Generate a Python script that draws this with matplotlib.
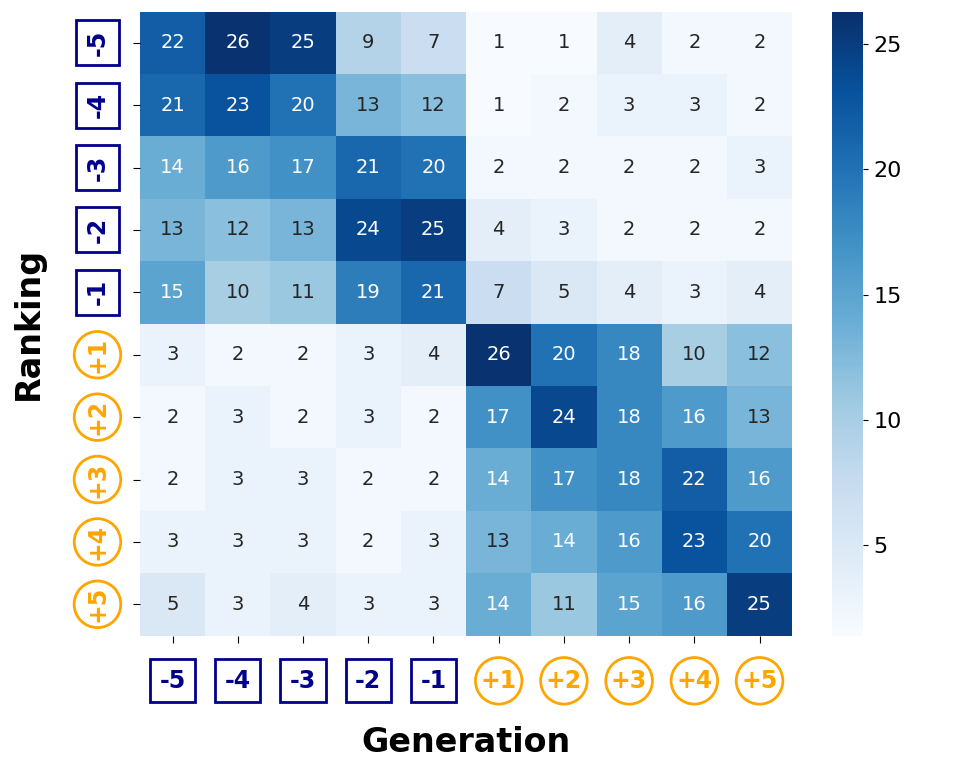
import matplotlib
matplotlib.use("Agg")
import matplotlib.pyplot as plt
import seaborn as sns
import numpy as np

gen_labels = ["-5", "-4", "-3", "-2", "-1", "+1", "+2", "+3", "+4", "+5"]
rank_labels = ["-5", "-4", "-3", "-2", "-1", "+1", "+2", "+3", "+4", "+5"]

row_m5 = [22, 26, 25, 9, 7, 1, 1, 4, 2, 2]
row_m4 = [21, 23, 20, 13, 12, 1, 2, 3, 3, 2]
row_m3 = [14, 16, 17, 21, 20, 2, 2, 2, 2, 3]
row_m2 = [13, 12, 13, 24, 25, 4, 3, 2, 2, 2]
row_m1 = [15, 10, 11, 19, 21, 7, 5, 4, 3, 4]
row_p1 = [3, 2, 2, 3, 4, 26, 20, 18, 10, 12]
row_p2 = [2, 3, 2, 3, 2, 17, 24, 18, 16, 13]
row_p3 = [2, 3, 3, 2, 2, 14, 17, 18, 22, 16]
row_p4 = [3, 3, 3, 2, 3, 13, 14, 16, 23, 20]
row_p5 = [5, 3, 4, 3, 3, 14, 11, 15, 16, 25]

data = np.array([row_m5, row_m4, row_m3, row_m2, row_m1,
                 row_p1, row_p2, row_p3, row_p4, row_p5])

fig = plt.figure(figsize=(9.69, 7.75), dpi=100)
ax = fig.add_axes([0.1445, 0.18, 0.673, 0.805])
cax = fig.add_axes([0.859, 0.18, 0.032, 0.805])

sns.heatmap(data, ax=ax, cbar_ax=cax, cmap="Blues", vmin=1.4, vmax=26.3,
            annot=True, fmt="d", annot_kws={"fontsize": 14},
            xticklabels=gen_labels, yticklabels=rank_labels)

cax.tick_params(labelsize=16)
cax.set_yticks([5, 10, 15, 20, 25])

navy = "#00008B"
orange = "#FFA500"

ax.tick_params(axis="x", pad=19, length=5)
ax.tick_params(axis="y", pad=17, length=5)

def style(lbl, rot):
    t = lbl.get_text()
    neg = t.startswith("-")
    lbl.set_rotation(rot)
    lbl.set_fontsize(17)
    lbl.set_fontweight("bold")
    lbl.set_color(navy if neg else orange)
    lbl.set_bbox(dict(boxstyle="square,pad=0.4" if neg else "circle,pad=0.22",
                      fc="white", ec=navy if neg else orange, lw=2))

for lbl in ax.get_xticklabels():
    style(lbl, 0)
for lbl in ax.get_yticklabels():
    style(lbl, 90)
    lbl.set_va("center")

ax.set_xlabel("Generation", fontsize=24, fontweight="bold", labelpad=24)
ax.set_ylabel("Ranking", fontsize=24, fontweight="bold", labelpad=29)

fig.savefig("out.png", dpi=100)
